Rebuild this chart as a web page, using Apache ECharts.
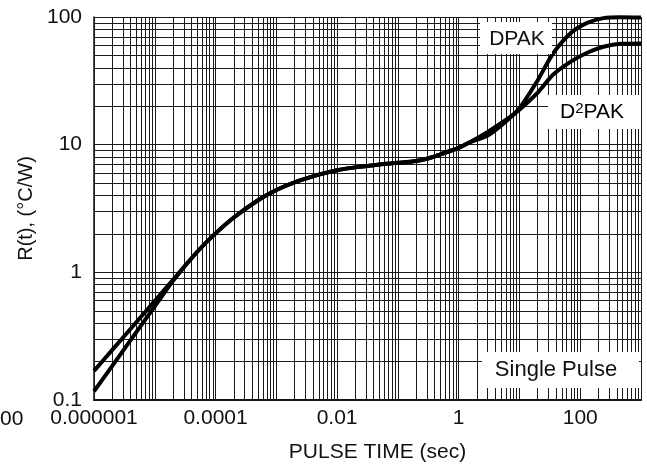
<!DOCTYPE html>
<html>
<head>
<meta charset="utf-8">
<script src="https://cdn.jsdelivr.net/npm/echarts@6/dist/echarts.min.js"></script>
<style>
  html, body { margin: 0; padding: 0; background: #fff; }
  #chart { width: 647px; height: 468px; }
</style>
</head>
<body>
<div id="chart"></div>
<script>
// pulse time (sec) and thermal resistance R(t) (°C/W)
const pulseTime = [1e-6, 2e-6, 5e-6, 1e-5, 2e-5, 5e-5, 1e-4, 2e-4, 5e-4, 1e-3, 2e-3, 5e-3, 1e-2, 2e-2, 5e-2,
  0.1, 0.2, 0.3, 0.5, 1, 1.5, 3, 5.5, 10, 20, 36, 70, 130, 240, 460, 1000]
const dpakR = [0.169, 0.247, 0.408, 0.597, 0.875, 1.45, 2.02, 2.69, 3.67, 4.42, 5.07, 5.82, 6.31, 6.64, 7.0,
  7.21, 7.46, 7.76, 8.41, 9.44, 10.4, 11.8, 14.7, 19.3, 32, 52, 75, 90, 98, 99.5, 99]
const d2pakR = [0.117, 0.185, 0.342, 0.542, 0.86, 1.45, 2.02, 2.69, 3.67, 4.42, 5.07, 5.82, 6.31, 6.64, 7.0,
  7.21, 7.46, 7.76, 8.41, 9.44, 10.4, 12.6, 15.2, 18.8, 25.6, 35.4, 44.7, 52.5, 58.5, 61.7, 62]

const xTickLabels = ['0.000001', '0.0001', '0.01', '1', '100']
const yTickLabels = ['0.1', '1', '10', '100']
const xDecades = [-6, -5, -4, -3, -2, -1, 0, 1, 2, 3]
const yDecades = [-1, 0, 1, 2]
const gridSteps = [1, 2, 3, 4, 5, 6, 7, 8, 9]
const xMin = 1e-6, xMax = 1000, yMin = 0.1, yMax = 100

function gridValues (decades) {
  const out = []
  decades.forEach((d, i) => {
    const steps = i === decades.length - 1 ? [1] : gridSteps
    steps.forEach(s => out.push(s * Math.pow(10, d)))
  })
  return out
}

function labelFor (list) {
  const map = {}
  list.forEach(s => { map[Math.round(Math.log10(parseFloat(s)))] = s })
  return v => {
    const e = Math.round(Math.log10(v))
    return map[e] !== undefined ? map[e] : ''
  }
}

const gridLines = gridValues(xDecades).map(v => ({ coords: [[v, yMin], [v, yMax]] }))
  .concat(gridValues(yDecades).map(v => ({ coords: [[xMin, v], [xMax, v]] })))

const font = 'Liberation Sans, Arial, Helvetica, sans-serif'
const chart = echarts.init(document.getElementById('chart'))

chart.setOption({
  animation: false,
  backgroundColor: '#fff',
  grid: { left: 94, right: 6, top: 17, bottom: 66 },
  xAxis: {
    type: 'log',
    logBase: 10,
    min: xMin,
    max: xMax,
    splitNumber: 9,
    name: 'PULSE TIME (sec)',
    nameLocation: 'middle',
    nameGap: 42,
    nameTextStyle: { color: '#111', fontFamily: font, fontSize: 21, padding: [0, 0, 0, 20] },
    axisLine: { lineStyle: { color: '#111', width: 2 } },
    axisTick: { show: false },
    splitLine: { show: false },
    axisLabel: {
      color: '#111', fontFamily: font, fontSize: 21, margin: 8,
      formatter: labelFor(xTickLabels)
    }
  },
  yAxis: {
    type: 'log',
    logBase: 10,
    min: yMin,
    max: yMax,
    splitNumber: 3,
    name: 'R(t), (°C/W)',
    nameLocation: 'middle',
    nameGap: 58,
    nameTextStyle: { color: '#111', fontFamily: font, fontSize: 20 },
    axisLine: { lineStyle: { color: '#111', width: 1.5 } },
    axisTick: { show: false },
    splitLine: { show: false },
    axisLabel: {
      color: '#111', fontFamily: font, fontSize: 21, margin: 12,
      formatter: labelFor(yTickLabels)
    }
  },
  graphic: [
    { type: 'text', left: 0, top: 409, z: 100, style: { text: '00', fill: '#111', font: '21px ' + font } },
    { type: 'rect', shape: { x: 480, y: 22, width: 72, height: 32 }, z: 100, style: { fill: '#fff' } },
    { type: 'text', x: 517, y: 39, z: 101, style: { text: 'DPAK', fill: '#111', font: '21px ' + font, align: 'center', verticalAlign: 'middle' } },
    { type: 'rect', shape: { x: 548, y: 95, width: 93, height: 34 }, z: 100, style: { fill: '#fff' } },
    {
      type: 'text', x: 592, y: 112, z: 101,
      style: {
        text: '{a|D}{s|2}{a|PAK}', align: 'center', verticalAlign: 'middle',
        rich: {
          a: { fontSize: 21, fontFamily: font, color: '#111' },
          s: { fontSize: 15, fontFamily: font, color: '#111', verticalAlign: 'top', padding: [0, 0, 6, 0] }
        }
      }
    },
    { type: 'rect', shape: { x: 482, y: 352, width: 157, height: 36 }, z: 100, style: { fill: '#fff' } },
    { type: 'text', x: 556, y: 370, z: 101, style: { text: 'Single Pulse', fill: '#111', font: '22px ' + font, align: 'center', verticalAlign: 'middle' } }
  ],
  series: [
    {
      name: 'grid',
      type: 'lines',
      coordinateSystem: 'cartesian2d',
      silent: true,
      z: 1,
      lineStyle: { color: '#1a1a1a', width: 1, opacity: 1, curveness: 0 },
      data: gridLines
    },
    {
      name: 'DPAK',
      type: 'line',
      z: 10,
      showSymbol: false,
      smooth: 0.3,
      lineStyle: { color: '#000', width: 4 },
      data: pulseTime.map((t, i) => [t, dpakR[i]])
    },
    {
      name: 'D2PAK',
      type: 'line',
      z: 10,
      showSymbol: false,
      smooth: 0.3,
      lineStyle: { color: '#000', width: 4 },
      data: pulseTime.map((t, i) => [t, d2pakR[i]])
    }
  ]
})
</script>
</body>
</html>
